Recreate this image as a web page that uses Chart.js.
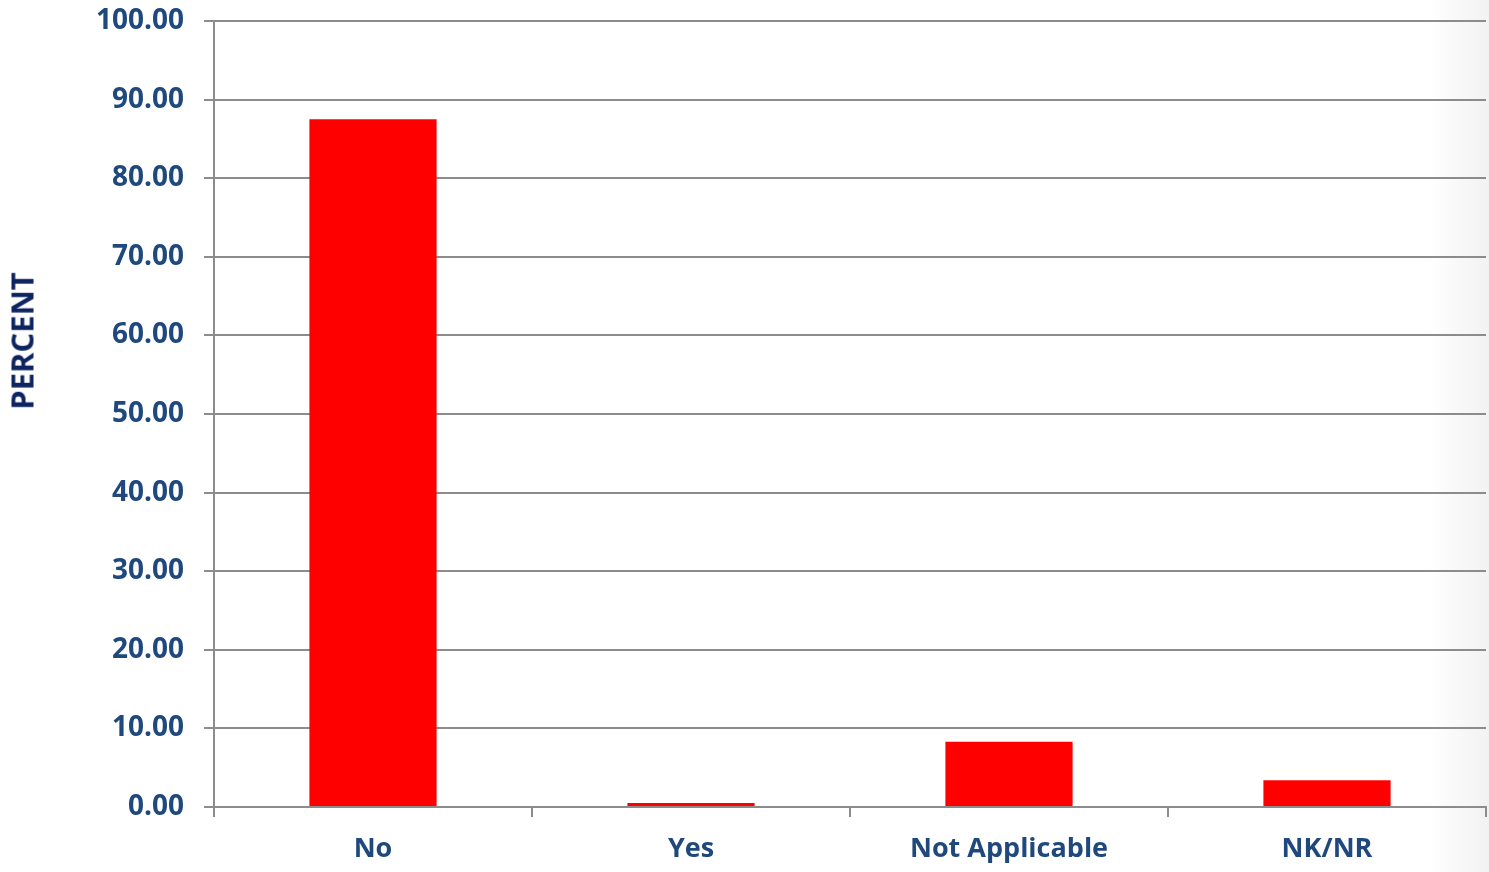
<!DOCTYPE html>
<html>
<head>
<meta charset="utf-8">
<script src="https://cdn.jsdelivr.net/npm/chart.js@4/dist/chart.umd.min.js"></script>
<style>
  html, body { margin: 0; padding: 0; background: #fff; }
  body { background: linear-gradient(to right, #ffffff 0%, #ffffff 96%, #f2f2f2 100%); }
  #wrap { width: 1489px; height: 872px; position: relative; }
  #ytitle {
    position: absolute; left: 22px; top: 341px;
    transform: translate(-50%, -50%) rotate(-90deg);
    font-family: "Open Sans", sans-serif; font-weight: bold; font-size: 31px;
    color: #0d2461; white-space: nowrap; line-height: 1;
  }
</style>
</head>
<body>
<div id="wrap"><canvas id="chart"></canvas><div id="ytitle">PERCENT</div></div>
<script>
const categories = ["No", "Yes", "Not Applicable", "NK/NR"];
const percent = [87.5, 0.5, 8.3, 3.4];
const yTicks = [0, 10, 20, 30, 40, 50, 60, 70, 80, 90, 100];

const labelColor = "#1f497d";
const gridColor = "#8c8c8c";

new Chart(document.getElementById("chart").getContext("2d"), {
    type: "bar",
    data: {
        labels: categories,
        datasets: [{
            label: "Percent",
            data: percent,
            backgroundColor: "#ff0000",
            borderWidth: 0,
            barPercentage: 0.4,
            categoryPercentage: 1.0
        }]
    },
    options: {
        animation: false,
        responsive: true,
        maintainAspectRatio: false,
        layout: { padding: { top: 21, right: 3, bottom: 0, left: 0 } },
        plugins: {
            legend: { display: false },
            tooltip: { enabled: false }
        },
        scales: {
            x: {
                offset: true,
                grid: {
                    offset: true,
                    drawOnChartArea: false,
                    color: gridColor,
                    lineWidth: 2,
                    tickLength: 10
                },
                border: { color: gridColor, width: 2 },
                ticks: {
                    color: labelColor,
                    padding: 16,
                    font: { family: "Open Sans", size: 27, weight: "bold" }
                },
                afterFit: (scale) => {
                    scale.height = 65;
                    scale.paddingLeft = 0;
                    scale.paddingRight = 0;
                }
            },
            y: {
                min: 0,
                max: 100,
                afterBuildTicks: (scale) => { scale.ticks = yTicks.map(v => ({ value: v })); },
                grid: {
                    color: gridColor,
                    lineWidth: 2,
                    tickLength: 10
                },
                border: { color: gridColor, width: 2 },
                ticks: {
                    color: labelColor,
                    padding: 20,
                    font: { family: "Open Sans", size: 28, weight: "bold" },
                    callback: (v) => Number(v).toFixed(2)
                },
                afterFit: (scale) => {
                    scale.width = 214;
                    scale.paddingTop = 0;
                    scale.paddingBottom = 0;
                }
            }
        }
    }
});
</script>
</body>
</html>
